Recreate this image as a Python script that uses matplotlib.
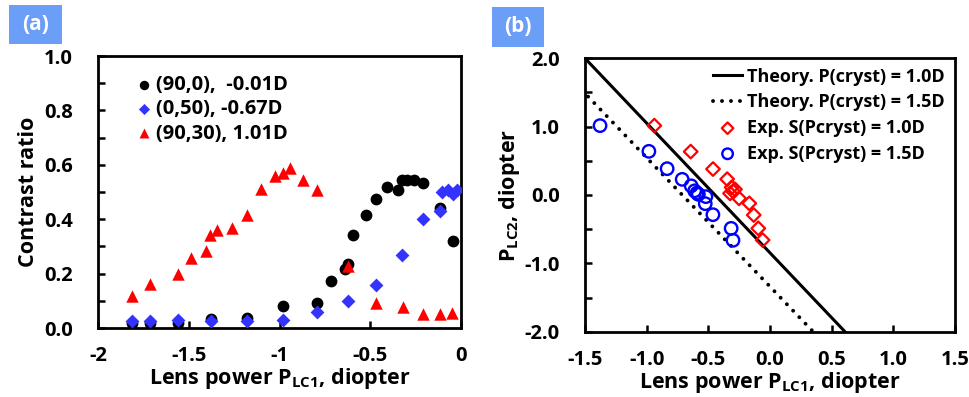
import matplotlib
matplotlib.use("Agg")
import matplotlib.pyplot as plt
from matplotlib.ticker import FixedLocator

plt.rcParams['font.family'] = ['Open Sans', 'DejaVu Sans']
plt.rcParams['font.weight'] = 'bold'
plt.rcParams['mathtext.fontset'] = 'custom'
plt.rcParams['mathtext.rm'] = 'Open Sans:bold'
plt.rcParams['mathtext.bf'] = 'Open Sans:bold'
plt.rcParams['mathtext.default'] = 'rm'

# ---------------- Panel (a) data ----------------
a_black_x = [-1.815, -1.713, -1.561, -1.377, -1.177, -0.983, -0.792, -0.716, -0.639, -0.621,
             -0.593, -0.525, -0.468, -0.410, -0.349, -0.327, -0.299, -0.257, -0.211, -0.116, -0.046]
a_black_y = [0.018, 0.018, 0.018, 0.033, 0.037, 0.080, 0.092, 0.172, 0.217, 0.235,
             0.343, 0.417, 0.475, 0.518, 0.509, 0.543, 0.543, 0.543, 0.533, 0.441, 0.319]

a_blue_x = [-1.815, -1.713, -1.561, -1.377, -1.177, -0.983, -0.792, -0.621, -0.468, -0.323,
            -0.211, -0.116, -0.107, -0.070, -0.046, -0.024]
a_blue_y = [0.027, 0.027, 0.031, 0.027, 0.027, 0.028, 0.058, 0.100, 0.157, 0.270,
            0.402, 0.429, 0.500, 0.509, 0.494, 0.509]

a_red_x = [-1.815, -1.713, -1.561, -1.489, -1.405, -1.383, -1.346, -1.264, -1.177, -1.102,
           -1.025, -0.983, -0.942, -0.872, -0.795, -0.621, -0.468, -0.321, -0.211, -0.116, -0.048]
a_red_y = [0.119, 0.163, 0.199, 0.256, 0.282, 0.341, 0.359, 0.368, 0.417, 0.511,
           0.558, 0.570, 0.588, 0.543, 0.509, 0.229, 0.092, 0.077, 0.053, 0.053, 0.055]

a_labels = ['(90,0),  -0.01D', '(0,50), -0.67D', '(90,30), 1.01D']
a_xticks = [-2, -1.5, -1, -0.5, 0]
a_xticklabels = ['-2', '-1.5', '-1', '-0.5', '0']
a_yticks = [0, 0.2, 0.4, 0.6, 0.8, 1.0]
a_yticklabels = ['0.0', '0.2', '0.4', '0.6', '0.8', '1.0']

# ---------------- Panel (b) data ----------------
b_theory10_x = [-1.5, 0.608]
b_theory10_y = [2.0, -2.0]
b_theory15_x = [-1.475, 0.35]
b_theory15_y = [1.44, -2.0]

b_red_x = [-0.938, -0.643, -0.462, -0.347, -0.311, -0.297, -0.324, -0.284, -0.251, -0.168,
           -0.132, -0.095, -0.060]
b_red_y = [1.015, 0.635, 0.380, 0.232, 0.112, 0.049, 0.024, 0.083, -0.049, -0.122,
           -0.293, -0.488, -0.659]

b_blue_x = [-1.378, -0.982, -0.834, -0.712, -0.639, -0.611, -0.592, -0.581, -0.520, -0.525,
            -0.463, -0.315, -0.300]
b_blue_y = [1.015, 0.639, 0.385, 0.229, 0.134, 0.061, 0.029, 0.010, -0.024, -0.127,
            -0.288, -0.488, -0.663]

b_labels = ['Theory. P(cryst) = 1.0D', 'Theory. P(cryst) = 1.5D',
            'Exp. S(Pcryst) = 1.0D', 'Exp. S(Pcryst) = 1.5D']
b_xticks = [-1.5, -1.0, -0.5, 0.0, 0.5, 1.0, 1.5]
b_xticklabels = ['-1.5', '-1.0', '-0.5', '0.0', '0.5', '1.0', '1.5']
b_yticks = [-2.0, -1.0, 0.0, 1.0, 2.0]
b_yticklabels = ['-2.0', '-1.0', '0.0', '1.0', '2.0']

W, H = 970, 397
fig = plt.figure(figsize=(9.70, 3.97), dpi=100)

TICK_FS = 14.5
LAB_FS = 15.5

def style_axes(ax):
    for s in ax.spines.values():
        s.set_linewidth(2.0)
        s.set_color('black')
    ax.tick_params(axis='both', which='both', direction='in', width=1.8,
                   labelsize=TICK_FS, colors='black')
    ax.tick_params(axis='x', which='both', pad=13)
    ax.tick_params(axis='y', which='both', pad=18)
    ax.tick_params(which='major', length=5)
    ax.tick_params(which='minor', length=5)
    for lab in ax.get_xticklabels() + ax.get_yticklabels():
        lab.set_fontweight('bold')

# ---- panel (a)
axa = fig.add_axes([98 / W, 1 - 328 / H, (461 - 98) / W, (328 - 56) / H])
axa.scatter(a_black_x, a_black_y, s=72, marker='o', color='black', linewidths=0,
            label=a_labels[0], zorder=3)
axa.scatter(a_blue_x, a_blue_y, s=50, marker='D', color='#3333ff', linewidths=0,
            label=a_labels[1], zorder=4)
axa.scatter(a_red_x, a_red_y, s=80, marker='^', color='#ff0000', linewidths=0,
            label=a_labels[2], zorder=5)
axa.set_xlim(-2, 0)
axa.set_ylim(0, 1.0)
axa.set_xticks(a_xticks)
axa.set_xticklabels(a_xticklabels)
axa.set_yticks(a_yticks)
axa.set_yticklabels(a_yticklabels)
axa.yaxis.set_minor_locator(FixedLocator([0.1, 0.3, 0.5, 0.7, 0.9]))
style_axes(axa)
axa.set_ylabel('Contrast ratio', fontsize=LAB_FS, fontweight='bold', labelpad=4)
axa.set_xlabel('Lens power P$_{LC1}$, diopter', fontsize=LAB_FS,
               fontweight='bold', labelpad=0)
leg = axa.legend(loc='upper left', bbox_to_anchor=(0.065, 0.975), frameon=False,
                 fontsize=14.5, handletextpad=0.1, handlelength=1.0, markerscale=0.8,
                 labelspacing=0.22, borderaxespad=0.2)
for t in leg.get_texts():
    t.set_fontweight('bold')

# ---- panel (b)
axb = fig.add_axes([585 / W, 1 - 331.7 / H, (955 - 585) / W, (331.7 - 58.3) / H])
axb.plot(b_theory10_x, b_theory10_y, '-', color='black', lw=2.2, label=b_labels[0], zorder=2)
axb.plot(b_theory15_x, b_theory15_y, linestyle=(0, (0.01, 2.3)), color='black', lw=2.8,
         dash_capstyle='round', label=b_labels[1], zorder=2)
axb.scatter(b_red_x, b_red_y, s=48, marker='D', facecolors='none', edgecolors='#ff0000',
            linewidths=1.6, label=b_labels[2], zorder=3)
axb.scatter(b_blue_x, b_blue_y, s=80, marker='o', facecolors='none', edgecolors='#0000ff',
            linewidths=1.7, label=b_labels[3], zorder=4)
axb.set_xlim(-1.5, 1.5)
axb.set_ylim(-2.0, 2.0)
axb.set_xticks(b_xticks)
axb.set_xticklabels(b_xticklabels)
axb.set_yticks(b_yticks)
axb.set_yticklabels(b_yticklabels)
axb.yaxis.set_minor_locator(FixedLocator([-1.5, -0.5, 0.5, 1.5]))
style_axes(axb)
axb.set_ylabel('P$_{LC2}$, diopter', fontsize=LAB_FS, fontweight='bold', labelpad=2)
axb.set_xlabel('Lens power P$_{LC1}$, diopter', fontsize=LAB_FS,
               fontweight='bold', labelpad=0)
legb = axb.legend(loc='upper right', bbox_to_anchor=(1.0, 1.005), frameon=False,
                  fontsize=13, handletextpad=0.25, handlelength=1.6, markerscale=0.85,
                  labelspacing=0.42, borderaxespad=0.2, markerfirst=True)
for t in legb.get_texts():
    t.set_fontweight('bold')

# ---- panel labels
for (x0, y0, x1, y1, txt) in [(9, 5, 62, 44, '(a)'), (492, 7, 544, 47, '(b)')]:
    fig.patches.append(plt.Rectangle((x0 / W, 1 - y1 / H), (x1 - x0) / W, (y1 - y0) / H,
                                     transform=fig.transFigure, facecolor='#6b9ef6',
                                     edgecolor='none'))
    fig.text((x0 + x1) / 2 / W, 1 - (y0 + y1) / 2 / H, txt, ha='center', va='center',
             color='white', fontsize=15, fontweight='bold')

fig.savefig('out.png', dpi=100)
